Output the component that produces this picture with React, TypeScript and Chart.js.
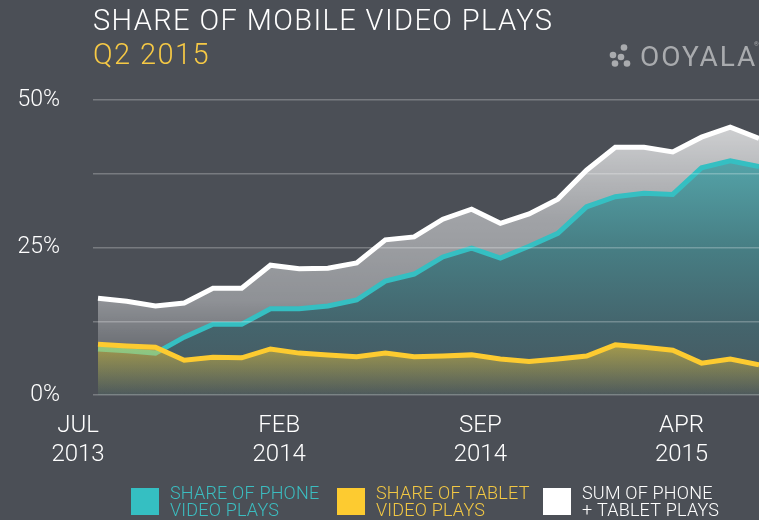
import React, { useEffect, useRef } from "react";
import { Chart, registerables } from "chart.js";

Chart.register(...registerables);

const categories = [
  "JUL 2013", "AUG 2013", "SEP 2013", "OCT 2013", "NOV 2013", "DEC 2013",
  "JAN 2014", "FEB 2014", "MAR 2014", "APR 2014", "MAY 2014", "JUN 2014",
  "JUL 2014", "AUG 2014", "SEP 2014", "OCT 2014", "NOV 2014", "DEC 2014",
  "JAN 2015", "FEB 2015", "MAR 2015", "APR 2015", "MAY 2015", "JUN 2015",
];
const shownTicks = ["JUL 2013", "FEB 2014", "SEP 2014", "APR 2015"];

const phoneShare = [7.8, 7.5, 7.1, 9.8, 12.0, 12.0, 14.6, 14.6, 15.1, 16.1, 19.3, 20.5, 23.4, 24.9, 23.2, 25.2, 27.4, 31.9, 33.6, 34.2, 34.0, 38.5, 39.7, 38.7];
const tabletShare = [8.6, 8.3, 8.1, 5.9, 6.4, 6.3, 7.8, 7.1, 6.8, 6.5, 7.1, 6.5, 6.6, 6.8, 6.1, 5.7, 6.1, 6.6, 8.5, 8.1, 7.6, 5.4, 6.1, 5.1];
const sumShare = [16.4, 15.9, 15.1, 15.6, 18.1, 18.1, 22.0, 21.4, 21.5, 22.4, 26.3, 26.8, 29.8, 31.5, 29.1, 30.7, 33.2, 38.1, 42.0, 42.0, 41.2, 43.7, 45.4, 43.5];

const legendPhone = ["SHARE OF PHONE", "VIDEO PLAYS"];
const legendTablet = ["SHARE OF TABLET", "VIDEO PLAYS"];
const legendSum = ["SUM OF PHONE", "+ TABLET PLAYS"];

const titleText = "SHARE OF MOBILE VIDEO PLAYS";
const subtitleText = "Q2 2015";
const logoText = "OOYALA";

const BG = "#4b4f56";
const TEAL = "#35bfc2";
const YELLOW = "#fdcb30";
const WHITE = "#ffffff";
const FONT = "Roboto, 'Liberation Sans', Arial, sans-serif";
const W = 300;

function gradient(stops: [number, string][]) {
  return (c: any) => {
    const chart = c.chart;
    const { ctx, chartArea, scales } = chart;
    if (!chartArea || !scales.y) return "transparent";
    const y = scales.y;
    const top = stops[0][0];
    const y0 = y.getPixelForValue(top);
    const y1 = y.getPixelForValue(0);
    const g = ctx.createLinearGradient(0, y0, 0, y1);
    stops.forEach(([v, col]) => g.addColorStop(Math.min(1, Math.max(0, (top - v) / top)), col));
    return g;
  };
}

const decorPlugin = {
  id: "decor",
  afterDraw(chart: any) {
    const { ctx } = chart;
    ctx.save();
    ctx.textBaseline = "alphabetic";
    ctx.textAlign = "left";
    ctx.fillStyle = WHITE;
    ctx.font = `${W} 29px ${FONT}`;
    ctx.letterSpacing = "1.4px";
    ctx.fillText(titleText, 93, 30);
    ctx.fillStyle = "#f6c945";
    ctx.fillText(subtitleText, 93, 64);
    // logo
    ctx.fillStyle = "#a9abae";
    ctx.font = `400 28px ${FONT}`;
    ctx.letterSpacing = "2px";
    ctx.fillText(logoText, 640, 66);
    ctx.letterSpacing = "0px";
    ctx.font = `6px ${FONT}`;
    ctx.fillText("®", 754, 46);
    const dots = [[624, 47.5], [613, 55], [621, 57], [615, 63.5], [627, 63.5]];
    dots.forEach(([x, y]) => {
      ctx.beginPath();
      ctx.arc(x, y, 3.3, 0, Math.PI * 2);
      ctx.fill();
    });
    // legend
    const items = chart.data.datasets.map((d: any) => ({ lines: d.legendLines, color: d.borderColor, textColor: d.legendTextColor }));
    const order = [1, 0, 2];
    ctx.font = `${W} 18px ${FONT}`;
    ctx.letterSpacing = "0.2px";
    order.forEach((di, k) => {
      const it = items[di];
      const x0 = 131 + k * 206;
      ctx.fillStyle = it.color;
      ctx.fillRect(x0, 488, 28, 27);
      ctx.fillStyle = it.textColor;
      it.lines.forEach((ln: string, j: number) => ctx.fillText(ln, x0 + 39, 499 + j * 17));
    });
    ctx.restore();
  },
};

export default function App() {
  const ref = useRef<HTMLCanvasElement>(null);
  useEffect(() => {
    if (!ref.current) return;
    const chart = new Chart(ref.current, {
      type: "line",
      data: {
        labels: categories,
        datasets: [
          {
            label: legendTablet.join(" "),
            legendLines: legendTablet,
            legendTextColor: "#f3c843",
            data: tabletShare,
            borderColor: YELLOW,
            backgroundColor: gradient([[9, "rgba(250,205,50,0.55)"], [0, "rgba(250,205,50,0.03)"]]),
            fill: "origin",
            order: 0,
          } as any,
          {
            label: legendPhone.join(" "),
            legendLines: legendPhone,
            legendTextColor: "#3bbdc0",
            data: phoneShare,
            borderColor: TEAL,
            backgroundColor: gradient([
              [40, "rgb(84,164,169)"],
              [25, "rgb(71,126,132)"],
              [12, "rgb(68,101,109)"],
              [0, "rgb(72,86,94)"],
            ]),
            fill: "origin",
            order: 1,
          } as any,
          {
            label: legendSum.join(" "),
            legendLines: legendSum,
            legendTextColor: WHITE,
            data: sumShare,
            borderColor: WHITE,
            backgroundColor: gradient([
              [46, "rgba(255,255,255,0.74)"],
              [30, "rgba(255,255,255,0.48)"],
              [16, "rgba(255,255,255,0.38)"],
              [8, "rgba(255,255,255,0.18)"],
              [0, "rgba(255,255,255,0.05)"],
            ]),
            fill: "origin",
            order: 2,
          } as any,
        ],
      },
      options: {
        animation: false,
        responsive: false,
        maintainAspectRatio: false,
        layout: { padding: { top: 100, right: 0, bottom: 0, left: 0 } },
        elements: {
          line: { tension: 0, borderWidth: 5, borderJoinStyle: "miter", borderCapStyle: "butt" },
          point: { radius: 0, hoverRadius: 0 },
        },
        plugins: { legend: { display: false }, tooltip: { enabled: false }, title: { display: false } },
        scales: {
          x: {
            type: "category",
            grid: { display: false },
            border: { display: false },
            ticks: {
              autoSkip: false,
              maxRotation: 0,
              color: WHITE,
              font: { family: FONT, size: 24, weight: W, lineHeight: 1.2 },
              padding: 9,
              labelOffset: -20,
              callback: function (this: any, v: any, i: number) {
                const c = categories[i];
                return shownTicks.includes(c) ? c.split(" ") : "";
              },
            },
            afterFit: (s: any) => { s.height = 125; s.paddingLeft = 0; s.paddingRight = 0; },
          },
          y: {
            min: 0,
            max: 50,
            grid: { z: 1, color: "rgba(255,255,255,0.25)", lineWidth: 1.5, drawTicks: true, tickLength: 5, tickColor: "rgba(255,255,255,0.25)" },
            border: { display: false },
            ticks: {
              stepSize: 12.5,
              color: WHITE,
              padding: 33,
              font: { family: FONT, size: 23, weight: W },
              callback: (v: any) => (Number(v) % 25 === 0 ? `${v}%` : ""),
            },
            afterFit: (s: any) => { s.width = 98; },
          },
        },
      },
      plugins: [decorPlugin],
    } as any);
    return () => chart.destroy();
  }, []);
  return (
    <div style={{ position: "fixed", left: 0, top: 0, width: 759, height: 520, background: BG, overflow: "hidden" }}>
      <canvas ref={ref} width={759} height={520} style={{ display: "block", width: 759, height: 520 }} />
    </div>
  );
}
